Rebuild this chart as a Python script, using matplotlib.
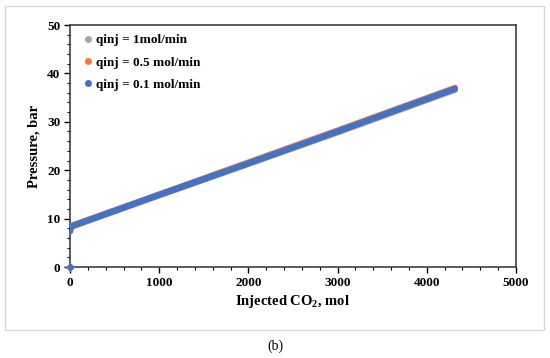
import matplotlib
matplotlib.use("Agg")
import matplotlib.pyplot as plt
from matplotlib.patches import Rectangle
from matplotlib.ticker import MultipleLocator

plt.rcParams['font.family'] = ['Liberation Serif', 'DejaVu Serif']
plt.rcParams['font.weight'] = 'bold'
plt.rcParams['mathtext.fontset'] = 'custom'
plt.rcParams['mathtext.rm'] = 'Liberation Serif:bold'
plt.rcParams['mathtext.bf'] = 'Liberation Serif:bold'

labels = ["qinj = 1mol/min", "qinj = 0.5 mol/min", "qinj = 0.1 mol/min"]
colors = ["#A5A5A5", "#ED7D31", "#4472C4"]

x_1 = [0, 0, 5, 30, 1000, 2000, 3000, 4000, 4316]
y_1 = [0, 7.3, 8.0, 8.4, 14.8, 21.3, 27.8, 34.5, 36.6]
x_05 = [0, 0, 5, 30, 1000, 2000, 3000, 4000, 4316]
y_05 = [0, 7.5, 8.2, 8.6, 15.0, 21.6, 28.2, 34.9, 37.0]
x_01 = [0, 0, 5, 30, 1000, 2000, 3000, 4000, 4316]
y_01 = [0, 7.4, 8.1, 8.5, 14.9, 21.4, 28.0, 34.7, 36.8]

series = [(x_1, y_1), (x_05, y_05), (x_01, y_01)]

fig = plt.figure(figsize=(5.5, 3.58), dpi=100)
fig.patches.append(Rectangle((5/550, 1-330/358), 539/550, 324/358, transform=fig.transFigure,
                             fill=False, edgecolor="#D9D9D9", linewidth=1.0))
ax = fig.add_axes([70/550, 1-267/358, 446/550, 242/358])

for (xs, ys), c, lab in zip(series, colors, labels):
    ax.plot(xs[1:], ys[1:], color=c, linewidth=4.5, solid_capstyle='round', zorder=3)
    ax.plot(xs[:1], ys[:1], 'D', color=c, markersize=3.5, zorder=4, clip_on=False)
    ax.plot([], [], 'o', color=c, markersize=4, label=lab)

ax.set_xlim(0, 5000)
ax.set_ylim(0, 50)
ax.xaxis.set_major_locator(MultipleLocator(1000))
ax.xaxis.set_minor_locator(MultipleLocator(200))
ax.yaxis.set_major_locator(MultipleLocator(10))
ax.yaxis.set_minor_locator(MultipleLocator(2))
ax.tick_params(which='major', direction='out', length=4, width=1, labelsize=9.5, pad=3)
ax.tick_params(which='minor', direction='out', length=2.5, width=0.8)
for lab in ax.get_xticklabels() + ax.get_yticklabels():
    lab.set_fontweight('bold')
for s in ax.spines.values():
    s.set_color('#404040')
    s.set_linewidth(1.2)

ax.set_xlabel("Injected CO$_\\mathbf{2}$, mol", fontsize=10.5, fontweight='bold', labelpad=3)
ax.set_ylabel("Pressure, bar", fontsize=10.5, fontweight='bold', labelpad=5)

leg = ax.legend(loc='upper left', bbox_to_anchor=(0.013, 1.0), frameon=False, fontsize=9.5,
                handlelength=0.5, handletextpad=0.35, labelspacing=0.75, borderaxespad=0.3)
for t in leg.get_texts():
    t.set_fontweight('bold')

fig.text(275/550, 1-346/358, "(b)", ha='center', va='center', fontsize=10, fontweight='normal')

fig.savefig("out.png", dpi=100)
